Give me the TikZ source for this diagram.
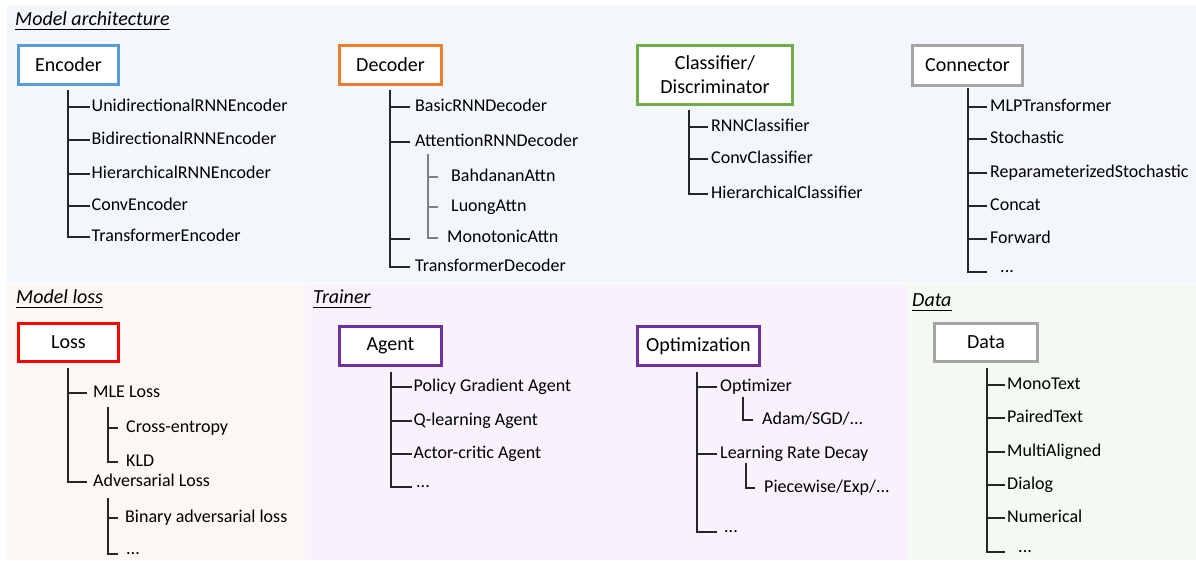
\documentclass[tikz,border=0pt]{standalone}
\usepackage{fontspec}
\setmainfont{Carlito}
\usetikzlibrary{calc}
\definecolor{archbg}{HTML}{F3F6FB}
\definecolor{lossbg}{HTML}{FBF7F3}
\definecolor{trainbg}{HTML}{F8F2FD}
\definecolor{databg}{HTML}{F4FAF2}
\definecolor{cblue}{HTML}{5B9BD5}
\definecolor{corange}{HTML}{ED7D31}
\definecolor{cgreen}{HTML}{70AD47}
\definecolor{cgray}{HTML}{A5A5A5}
\definecolor{cred}{HTML}{FF0000}
\definecolor{cpurple}{HTML}{7030A0}
\definecolor{treeline}{HTML}{262626}
\definecolor{subline}{HTML}{7F7F7F}
\begin{document}
\begin{tikzpicture}[x=1pt,y=-1pt,
  ptitle/.style={anchor=base west, inner sep=0pt, font=\fontsize{20}{24}\selectfont\itshape},
  uline/.style={line width=0.8pt, draw=black},
  box/.style={draw, line width=3pt, fill=white, inner sep=0pt, align=center,
    font=\fontsize{20}{24}\selectfont},
  item/.style={anchor=west, inner ysep=0pt, inner xsep=1.5pt,
    font=\fontsize{18}{21}\selectfont, text height=12pt, text depth=3.5pt},
  more/.style={item, anchor=base west},
  branch/.style={line width=1.3pt, draw=treeline},
  subbranch/.style={line width=1.3pt, draw=subline}]
\useasboundingbox (0,0) rectangle (1196,560);

% panel backgrounds
\fill[archbg]  (7,5)       rectangle (1196,282.5);
\fill[lossbg]  (7,283.5)   rectangle (305,560);
\fill[trainbg] (305,283.5) rectangle (907,560);
\fill[databg]  (907,283.5) rectangle (1196,560);

% panel titles
\node[ptitle] (tarch)  at (15,25)   {Model architecture};
\node[ptitle] (tloss)  at (16,303)  {Model loss};
\node[ptitle] (ttrain) at (313,303) {Trainer};
\node[ptitle] (tdata)  at (912,306) {Data};
\foreach \t in {tarch,tloss,ttrain,tdata}
  \draw[uline] ([yshift=-4pt]\t.base west) -- ([yshift=-4pt]\t.base east);

% ---------------- Encoder ----------------
\node[box, draw=cblue, minimum width=100pt, minimum height=39pt] (enc) at (68.5,65) {Encoder};
\node[item] (e1) at (90,107) {UnidirectionalRNNEncoder};
\node[item] (e2) at (90,140) {BidirectionalRNNEncoder};
\node[item] (e3) at (90,174) {HierarchicalRNNEncoder};
\node[item] (e4) at (90,206) {ConvEncoder};
\node[item] (e5) at (90,237) {TransformerEncoder};
\coordinate (encT) at (68,90);
\draw[branch] (encT) |- (e5.west);
\foreach \c in {e1,e2,e3,e4} \draw[branch] (encT |- \c.west) -- (\c.west);

% ---------------- Decoder ----------------
\node[box, draw=corange, minimum width=102pt, minimum height=39pt] (dec) at (390.5,65) {Decoder};
\node[item, inner xsep=5pt] (d1) at (410,107) {BasicRNNDecoder};
\node[item, inner xsep=5pt] (d2) at (410,142) {AttentionRNNDecoder};
\coordinate (dgap) at (410,239);
\node[item, inner xsep=5pt] (d3) at (410,267) {TransformerDecoder};
\coordinate (decT) at (390,90);
\draw[branch] (decT) |- (d3.west);
\foreach \c in {d1.west,d2.west,dgap} \draw[branch] (decT |- \c) -- (\c);
\node[item, inner xsep=13pt] (da) at (438,177) {BahdananAttn};
\node[item, inner xsep=13pt] (db) at (438,207) {LuongAttn};
\node[item, inner xsep=9pt]  (dc) at (438,238) {MonotonicAttn};
\coordinate (attT) at (428,154);
\draw[subbranch] (attT) |- (dc.west);
\foreach \c in {da,db} \draw[subbranch] (attT |- \c.west) -- (\c.west);

% ---------------- Classifier ----------------
\node[box, draw=cgreen, minimum width=155pt, minimum height=59pt] (cls) at (715,75) {Classifier/\\Discriminator};
\node[item, inner xsep=3pt] (c1) at (708,127) {RNNClassifier};
\node[item, inner xsep=3pt] (c2) at (708,159) {ConvClassifier};
\node[item, inner xsep=3pt] (c3) at (708,194) {HierarchicalClassifier};
\coordinate (clsT) at (689,110);
\draw[branch] (clsT) |- (c3.west);
\foreach \c in {c1,c2} \draw[branch] (clsT |- \c.west) -- (\c.west);

% ---------------- Connector ----------------
\node[box, draw=cgray, minimum width=110pt, minimum height=40pt] (con) at (967.5,65.5) {Connector};
\node[item, inner xsep=3pt] (k1) at (987,107) {MLPTransformer};
\node[item, inner xsep=3pt] (k2) at (987,139) {Stochastic};
\node[item, inner xsep=3pt] (k3) at (987,173) {ReparameterizedStochastic};
\node[item, inner xsep=3pt] (k4) at (987,206) {Concat};
\node[item, inner xsep=3pt] (k5) at (987,239) {Forward};
\node[more, inner xsep=13pt] (k6) at (987,272) {...};
\coordinate (conT) at (968,88);
\draw[branch] (conT) |- (k6.base west);
\foreach \c in {k1,k2,k3,k4,k5} \draw[branch] (conT |- \c.west) -- (\c.west);

% ---------------- Loss ----------------
\node[box, draw=cred, minimum width=100pt, minimum height=38pt] (los) at (68.5,342.5) {Loss};
\node[item, inner xsep=6pt] (l1) at (87,393) {MLE Loss};
\node[item, inner xsep=6pt] (l2) at (87,482) {Adversarial Loss};
\coordinate (losT) at (68,368);
\draw[branch] (losT) |- (l2.west);
\draw[branch] (losT |- l1.west) -- (l1.west);
\node[item, inner xsep=8pt] (l1a) at (118,428) {Cross-entropy};
\node[item, inner xsep=8pt] (l1b) at (118,462) {KLD};
\coordinate (mleT) at (108,407);
\draw[branch] (mleT) |- (l1b.west);
\draw[branch] (mleT |- l1a.west) -- (l1a.west);
\node[item, inner xsep=7pt] (l2a) at (118,518) {Binary adversarial loss};
\node[more, inner xsep=8pt] (l2b) at (118,554) {...};
\coordinate (advT) at (108,498);
\draw[branch] (advT) |- (l2b.base west);
\draw[branch] (advT |- l2a.west) -- (l2a.west);

% ---------------- Agent ----------------
\node[box, draw=cpurple, minimum width=102pt, minimum height=39pt] (agt) at (390.5,346) {Agent};
\node[item] (a1) at (412,387) {Policy Gradient Agent};
\node[item] (a2) at (412,421) {Q-learning Agent};
\node[item] (a3) at (412,454) {Actor-critic Agent};
\node[more, inner xsep=4pt] (a4) at (412,487) {...};
\coordinate (agtT) at (391,372);
\draw[branch] (agtT) |- (a4.base west);
\foreach \c in {a1,a2,a3} \draw[branch] (agtT |- \c.west) -- (\c.west);

% ---------------- Optimization ----------------
\node[box, draw=cpurple, minimum width=122pt, minimum height=39pt] (opt) at (698.5,346) {Optimization};
\node[item, inner xsep=3pt] (o1) at (717,387) {Optimizer};
\node[item, inner xsep=3pt] (o2) at (717,454) {Learning Rate Decay};
\node[more, inner xsep=7pt] (o3) at (717,532) {...};
\coordinate (optT) at (697,372);
\draw[branch] (optT) |- (o3.base west);
\foreach \c in {o1,o2} \draw[branch] (optT |- \c.west) -- (\c.west);
\node[item, inner xsep=9pt] (o1a) at (753,420) {Adam/SGD/...};
\draw[branch] (743,397) |- (o1a.west);
\node[item, inner xsep=9pt] (o2a) at (755,488) {Piecewise/Exp/...};
\draw[branch] (746,463) |- (o2a.west);

% ---------------- Data ----------------
\node[box, draw=cgray, minimum width=103pt, minimum height=38pt] (dat) at (986,342.5) {Data};
\node[item, inner xsep=2pt] (t1) at (1005,385) {MonoText};
\node[item, inner xsep=2pt] (t2) at (1005,418) {PairedText};
\node[item, inner xsep=2pt] (t3) at (1005,452) {MultiAligned};
\node[item, inner xsep=2pt] (t4) at (1005,485) {Dialog};
\node[item, inner xsep=2pt] (t5) at (1005,518) {Numerical};
\node[more, inner xsep=13pt] (t6) at (1005,552) {...};
\coordinate (datT) at (987,368);
\draw[branch] (datT) |- (t6.base west);
\foreach \c in {t1,t2,t3,t4,t5} \draw[branch] (datT |- \c.west) -- (\c.west);
\end{tikzpicture}
\end{document}
